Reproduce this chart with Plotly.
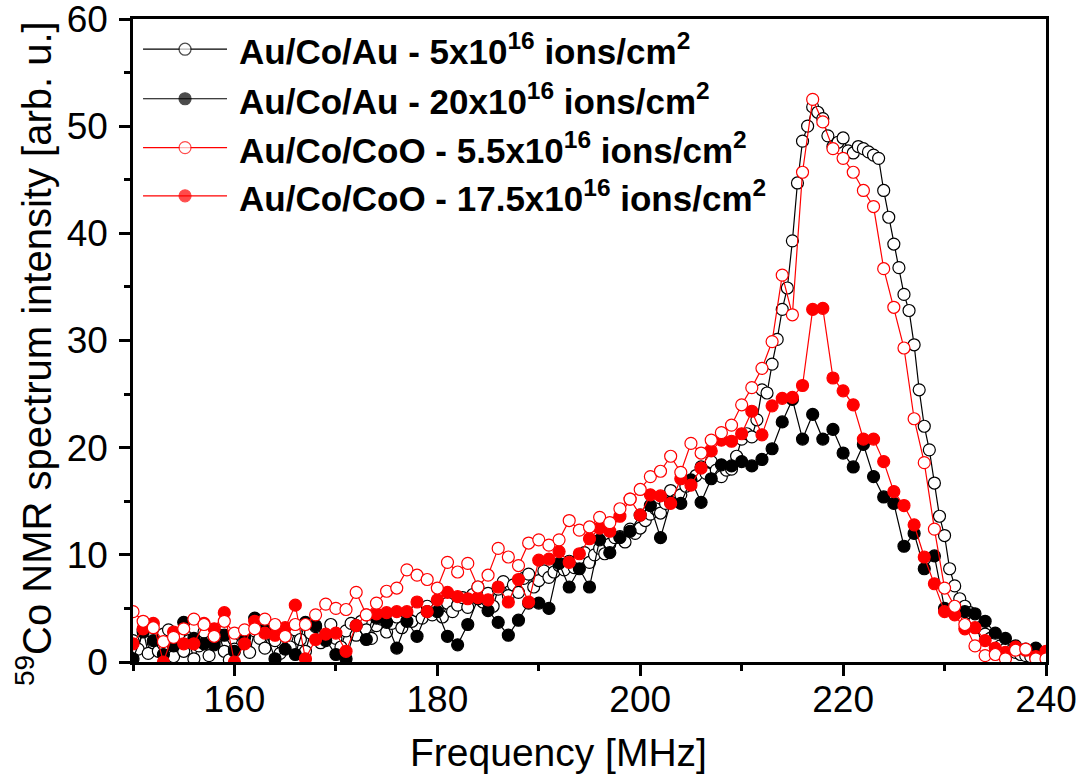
import numpy as np
import plotly.graph_objects as go

# Frequency grids [MHz]
freq_1mhz = np.arange(150, 241, 1.0)      # 91 points
freq_half = np.arange(150, 240.5, 0.5)    # 181 points

# Au/Co/Au - 5x10^16 ions/cm^2 (0.5 MHz step)
au_5 = [
    2.0, 1.2, 3.0, 0.8, 1.8, 1.0, 2.6, 3.0, 0.5, 2.4,
    1.0, 2.0, 0.3, 1.5, 2.8, 0.6, 1.9, 2.5, 1.0, 0.2,
    1.2, 2.6, 1.7, 0.9, 2.9, 2.2, 1.3, 3.1, 2.0, 0.8,
    2.5, 1.4, 3.0, 2.1, 1.0, 2.7, 3.3, 1.8, 2.4, 3.5,
    2.2, 1.4, 2.9, 3.6, 2.5, 3.8, 3.0, 2.2, 3.4, 4.0,
    2.8, 3.6, 4.2, 3.2, 4.5, 3.8, 4.8, 4.1, 5.2, 4.4,
    5.0, 4.2, 5.5, 4.7, 5.3, 6.0, 5.1, 6.3, 7.0, 5.6,
    6.4, 5.2, 6.8, 7.5, 6.2, 7.2, 6.5, 7.8, 8.2, 7.0,
    7.6, 8.5, 7.9, 8.4, 9.0, 8.6, 9.4, 8.8, 9.7, 10.2,
    9.3, 10.0, 10.6, 10.1, 11.0, 11.6, 11.7, 11.2, 12.4, 12.0,
    12.5, 13.2, 13.8, 14.3, 13.9, 14.8, 16.0, 15.1, 15.6, 16.4,
    16.9, 17.4, 18.2, 17.6, 18.7, 17.9, 17.3, 17.9, 18.0, 19.2,
    20.8, 21.3, 21.0, 22.6, 25.4, 25.1, 27.8, 30.1, 32.9, 34.9,
    39.3, 44.7, 48.6, 50.0, 51.8, 51.3, 50.7, 49.1, 48.1, 48.5,
    48.9, 47.7, 47.5, 48.1, 47.9, 47.6, 47.3, 47.0, 44.0, 41.5,
    39.0, 36.8, 34.3, 32.8, 29.6, 25.4, 22.0, 19.8, 16.7, 13.6,
    11.8, 8.7, 7.1, 5.9, 5.2, 4.6, 3.9, 3.2, 2.6, 2.2,
    1.8, 1.5, 1.2, 1.0, 0.9, 0.7, 0.6, 0.5, 0.4, 0.3,
    0.3,
]

# Au/Co/Au - 20x10^16 ions/cm^2 (1 MHz step)
au_20 = [
    0.3, 2.8, 2.0, 0.7, 1.5, 3.7, 2.2, 1.7, 1.6, 2.5,
    1.0, 2.3, 4.1, 3.0, 0.3, 1.2, 0.7, 3.7, 3.4, 2.0,
    0.7, 0.3, 3.4, 2.1, 4.1, 3.7, 1.3, 3.8, 2.4, 4.7,
    4.7, 2.4, 1.6, 3.5, 5.9, 4.8, 3.7, 2.5, 3.9, 5.5,
    5.5, 5.0, 9.2, 7.0, 8.7, 7.0, 11.4, 10.2, 11.6, 12.2,
    13.7, 14.6, 11.6, 14.9, 14.8, 17.0, 14.9, 17.1, 18.4, 18.3,
    18.7, 18.3, 18.9, 19.9, 22.4, 24.5, 20.8, 23.1, 20.8, 21.7,
    19.5, 18.2, 20.3, 17.3, 15.4, 14.8, 10.8, 12.0, 8.7, 9.9,
    5.0, 4.5, 4.7, 4.5, 3.8, 2.7, 2.2, 1.5, 1.2, 1.3,
    0.8,
]

# Au/Co/CoO - 5.5x10^16 ions/cm^2 (1 MHz step)
coo_5_5 = [
    4.7, 3.8, 3.2, 1.9, 2.3, 3.1, 4.0, 3.5, 2.4, 3.8,
    2.7, 3.0, 3.1, 4.0, 3.5, 2.4, 3.5, 3.5, 4.4, 5.4,
    5.0, 4.9, 6.5, 4.4, 5.5, 6.6, 6.9, 8.6, 8.1, 7.7,
    6.9, 9.3, 8.4, 9.2, 7.0, 8.1, 10.6, 9.8, 9.0, 11.1,
    11.4, 10.9, 11.4, 13.2, 12.3, 12.6, 13.5, 13.0, 14.3, 15.2,
    16.1, 17.3, 17.8, 19.2, 17.7, 20.4, 19.5, 20.7, 21.4, 22.1,
    24.0, 25.6, 27.4, 29.9, 36.1, 32.4, 45.7, 52.5, 50.4, 47.9,
    47.0, 45.7, 44.0, 42.5, 36.7, 33.1, 29.3, 22.7, 18.6, 12.4,
    6.9, 5.2, 3.5, 1.5, 0.6, 0.7, 0.3, 1.1, 1.2, 0.3,
    0.3,
]

# Au/Co/CoO - 17.5x10^16 ions/cm^2 (1 MHz step)
coo_17_5 = [
    1.7, 3.1, 3.6, 0.0, 2.8, 1.7, 1.7, 3.6, 3.1, 4.6,
    0.0, 1.7, 3.8, 2.7, 2.5, 3.2, 5.3, 0.3, 2.1, 2.6,
    2.7, 1.0, 3.4, 4.4, 4.5, 4.6, 4.7, 4.7, 5.6, 4.7,
    5.8, 6.5, 6.1, 5.9, 6.0, 5.8, 7.0, 5.6, 7.7, 5.6,
    9.5, 9.6, 10.3, 9.3, 10.1, 11.5, 12.5, 12.2, 13.6, 15.2,
    13.7, 15.6, 15.5, 14.8, 17.1, 16.5, 18.1, 19.7, 20.7, 20.6,
    21.3, 23.4, 21.2, 23.9, 24.6, 24.7, 25.8, 32.9, 33.0, 26.5,
    25.3, 24.0, 20.8, 20.8, 18.7, 15.9, 14.6, 12.8, 9.8, 7.3,
    4.7, 4.4, 3.1, 3.2, 2.0, 1.3, 0.9, 1.4, 1.1, 0.5,
    1.0,
]

series_names = [
    "Au/Co/Au - 5x10<sup>16</sup> ions/cm<sup>2</sup>",
    "Au/Co/Au - 20x10<sup>16</sup> ions/cm<sup>2</sup>",
    "Au/Co/CoO - 5.5x10<sup>16</sup> ions/cm<sup>2</sup>",
    "Au/Co/CoO - 17.5x10<sup>16</sup> ions/cm<sup>2</sup>",
]

BLACK = "#000000"
RED = "#ff0000"
FONT = "Liberation Sans, Arial, sans-serif"

styles = [
    dict(line=BLACK, fill="white"),   # open black
    dict(line=BLACK, fill=BLACK),     # filled black
    dict(line=RED, fill="white"),     # open red
    dict(line=RED, fill=RED),         # filled red
]
data = [
    (freq_half, au_5),
    (freq_1mhz, au_20),
    (freq_1mhz, coo_5_5),
    (freq_1mhz, coo_17_5),
]

fig = go.Figure()

# draw order: black open, black filled, red filled, red open (open red on top)
for idx in [0, 1, 3, 2]:
    x, y = data[idx]
    st = styles[idx]
    fig.add_trace(go.Scatter(
        x=x, y=y, mode="lines+markers", name=series_names[idx],
        line=dict(color=st["line"], width=1.2),
        marker=dict(symbol="circle", size=12, color=st["fill"],
                    line=dict(color=st["line"], width=1.2)),
        showlegend=False,
    ))

# Legend keys drawn on an overlay axis spanning [0, 1]
key_x = [0.011, 0.057, 0.103]
key_rows = [0.953, 0.876, 0.800, 0.725]
for idx, ry in enumerate(key_rows):
    st = styles[idx]
    fig.add_trace(go.Scatter(
        x=key_x, y=[ry] * 3, xaxis="x2", yaxis="y2",
        mode="lines+markers", showlegend=False, hoverinfo="skip",
        line=dict(color=st["line"], width=1.2),
        marker=dict(symbol="circle", size=[0, 12, 0], color=st["fill"],
                    line=dict(color=st["line"], width=[0, 1.2, 0])),
        cliponaxis=False,
    ))
    fig.add_annotation(
        x=0.114, y=ry, xref="x2", yref="y2", xanchor="left", yanchor="middle",
        text="<b>" + series_names[idx] + "</b>", showarrow=False,
        font=dict(family=FONT, size=35, color="black"),
    )

# Axis titles
fig.add_annotation(
    x=0.4655, y=-0.1415, xref="paper", yref="paper",
    xanchor="center", yanchor="middle", showarrow=False,
    text="Frequency [MHz]", font=dict(family=FONT, size=39, color="black"),
)
fig.add_annotation(
    x=-0.1084, y=0.479, xref="paper", yref="paper",
    xanchor="center", yanchor="middle", showarrow=False, textangle=-90,
    text="<sup>59</sup>Co NMR spectrum intensity [arb. u.]",
    font=dict(family=FONT, size=40, color="black"),
)

axis_common = dict(
    showline=True, linecolor="black", linewidth=2.5, mirror=True,
    ticks="outside", ticklen=11, tickwidth=2.5, tickcolor="black",
    showgrid=False, zeroline=False, ticklabeloverflow="allow",
    automargin=False,
    tickfont=dict(family=FONT, size=37, color="black"),
)

fig.update_layout(
    width=1085, height=783,
    margin=dict(l=133, r=39, t=19, b=121, autoexpand=False),
    paper_bgcolor="white", plot_bgcolor="white",
    font=dict(family=FONT, color="black"),
    xaxis=dict(
        range=[150, 240], dtick=20, tick0=160, ticklabelstandoff=-8,
        minor=dict(dtick=10, ticklen=6, tickwidth=2.5, tickcolor="black", ticks="outside"),
        **axis_common,
    ),
    yaxis=dict(
        range=[0, 60], dtick=10, ticklabelstandoff=4,
        minor=dict(dtick=5, ticklen=6, tickwidth=2.5, tickcolor="black", ticks="outside"),
        **axis_common,
    ),
    xaxis2=dict(overlaying="x", range=[0, 1], visible=False, fixedrange=True),
    yaxis2=dict(overlaying="y", range=[0, 1], visible=False, fixedrange=True),
    showlegend=False,
)

fig.write_html("out.html")
